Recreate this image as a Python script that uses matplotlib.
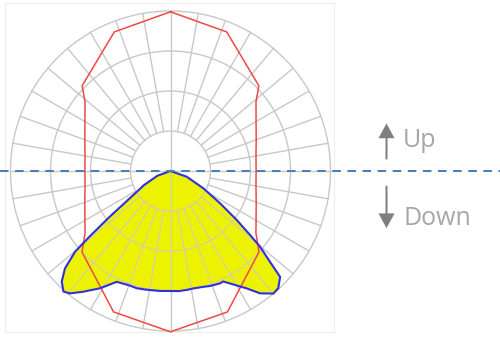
import numpy as np
import matplotlib
matplotlib.use("Agg")
import matplotlib.pyplot as plt
from matplotlib.patches import Polygon, Rectangle

# polar intensity curves: angle from nadir (deg, + to the right), intensity (cd)
# C0 plane, right half (mirrored for the left side)
red_gamma = [0, 22, 47.5, 54, 60, 70, 80, 90, 100, 110, 120, 129, 134, 158, 180]
red_cd = [402, 380, 300, 264, 247, 228, 217, 214, 217, 228, 247, 275, 307, 375, 398]

# C90 plane, full sweep from left to right
blue_gamma = [-90, -70, -62, -56, -53, -51, -49.8, -47.3, -44.5, -41.6, -39.4,
              -35.8, -31, -25.9, -23.5, -20, -16.1, -12, -9.8, -5, 0, 4, 7.8,
              11, 15.8, 19, 23.8, 25.5, 33, 36.2, 40, 42.6, 46, 47.6, 49.8,
              51.2, 53.5, 56.9, 62.2, 70.6, 90]
blue_cd = [0, 35, 75, 125, 192, 260, 312, 359, 388, 403, 396,
           372, 342, 308, 306, 304, 305, 303, 302, 301, 300, 301, 300,
           299, 301, 304, 307, 306, 350, 379, 400, 398, 381, 337, 293,
           255, 206, 148, 93, 43, 0]

rings = [100, 200, 300, 400]
spoke_step = 10

grid_col = "#c8c8c8"


def to_xy(gamma, r):
    g = np.radians(np.asarray(gamma, dtype=float))
    r = np.asarray(r, dtype=float)
    return r * np.sin(g), -r * np.cos(g)


fig = plt.figure(figsize=(5, 3.4), dpi=100)
ax = fig.add_axes([0, 0, 1, 1])
ax.set_xlim(-426.25, 823.75)
ax.set_ylim(-422.5, 427.5)
ax.axis("off")

# faint frame around the diagram
ax.add_patch(Rectangle((-414, -402), 823, 822, fill=False, ec="#eeeeee", lw=0.8, zorder=0))


def draw_grid(color, lw, zorder, clip=None):
    arts = []
    t = np.linspace(0, 2 * np.pi, 361)
    for r in rings:
        arts += ax.plot(r * np.cos(t), r * np.sin(t), color=color, lw=lw, zorder=zorder)
    for a in range(0, 360, spoke_step):
        if a % 90 == 0:
            continue
        x, y = to_xy([a, a], [rings[0], rings[-1]])
        arts += ax.plot(x, y, color=color, lw=lw, zorder=zorder)
    arts += ax.plot([0, 0], [-rings[-1], rings[-1]], color=color, lw=lw, zorder=zorder)
    arts += ax.plot([-rings[-1], rings[-1]], [0, 0], color=color, lw=lw, zorder=zorder)
    if clip is not None:
        for a in arts:
            a.set_clip_path(clip)


draw_grid(grid_col, 1.0, 1)

# C90 curve, filled
bx, by = to_xy(blue_gamma, blue_cd)
fill = Polygon(np.column_stack([bx, by]), closed=True, fc="#ecf200", ec="none", zorder=2)
ax.add_patch(fill)
draw_grid("#d2cdb4", 0.8, 3, clip=fill)
ax.plot(np.append(bx, bx[0]), np.append(by, by[0]), color="#3030dc", lw=1.5, zorder=5)

# C0 curve
g_full = np.concatenate([-np.array(red_gamma[::-1]), red_gamma[1:]])
r_full = np.concatenate([red_cd[::-1], red_cd[1:]])
rx, ry = to_xy(g_full, r_full)
ax.plot(rx, ry, color="#f04848", lw=1.1, zorder=4)

# horizon line
ax.plot([-426.25, 823.75], [1, 1], color="#4a7ebb", lw=1.45,
        dashes=(4.25, 3.25), zorder=6)

# up / down markers
ax.arrow(540, 29, 0, 90, width=5, head_width=40, head_length=37,
         length_includes_head=True, color="#7f7f7f", lw=0, zorder=6)
ax.arrow(540, -37, 0, -106, width=5, head_width=40, head_length=37,
         length_includes_head=True, color="#7f7f7f", lw=0, zorder=6)
ax.text(580, 60, "Up", fontsize=18, family="Open Sans", color="#a6a6a6", va="baseline")
ax.text(582, -135, "Down", fontsize=18, family="Open Sans", color="#a6a6a6", va="baseline")

fig.savefig("out.png", dpi=100)
